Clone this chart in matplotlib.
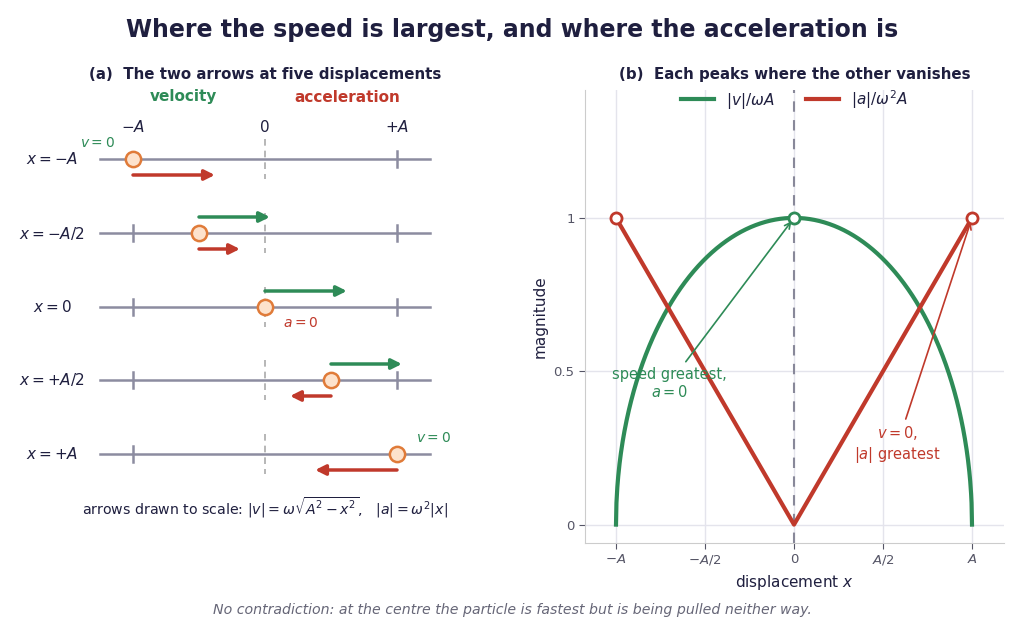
import numpy as np
import matplotlib
matplotlib.use("Agg")
import matplotlib.pyplot as plt

GREEN = "#2e8b57"; RED = "#c0392b"; NAVY = "#1f1f3f"; GREY = "#8c8ca0"
BALL_FACE = "#fde2cc"; BALL_EDGE = "#e07b39"

positions = [-1.0, -0.5, 0.0, 0.5, 1.0]
row_labels = [r"$x = -A$", r"$x = -A/2$", r"$x = 0$", r"$x = +A/2$", r"$x = +A$"]
axis_ticks = [-1.0, 0.0, 1.0]
axis_tick_labels = [r"$-A$", "0", r"$+A$"]
xticks_b = [-1.0, -0.5, 0.0, 0.5, 1.0]
xtick_labels_b = [r"$-A$", r"$-A/2$", "0", r"$A/2$", r"$A$"]
yticks_b = [0, 0.5, 1]
ytick_labels_b = ["0", "0.5", "1"]

fig = plt.figure(figsize=(10.24, 6.38), dpi=100)
fig.text(0.5, 1 - 30/638, "Where the speed is largest, and where the acceleration is",
         ha="center", va="center", fontsize=17, fontweight="bold", color=NAVY)
fig.text(0.5, 1 - 610/638, "No contradiction: at the centre the particle is fastest but is being pulled neither way.",
         ha="center", va="center", fontsize=10.2, style="italic", color="#666677")

# ---- panel (a)
axa = fig.add_axes([0, 1 - 540/638, 460/1024, 480/638])
axa.set_xlim(-265/132, 195/132)
axa.set_ylim(540, 60)
axa.axis("off")
axa.text(0.0, 75, "(a)  The two arrows at five displacements",
         ha="center", va="center", fontsize=10.8, fontweight="bold", color=NAVY)
axa.text((183-265)/132, 97, "velocity", ha="center", va="center", fontsize=11, fontweight="bold", color=GREEN)
axa.text((347-265)/132, 97, "acceleration", ha="center", va="center", fontsize=11, fontweight="bold", color=RED)
for t, l in zip(axis_ticks, axis_tick_labels):
    axa.text(t, 127, l, ha="center", va="center", fontsize=11, color=NAVY)

scale = 0.62
row_y = [159, 233, 307, 380, 454]
for x, lab, y in zip(positions, row_labels, row_y):
    axa.plot([(100-265)/132, (430-265)/132], [y, y], color=GREY, lw=1.8, zorder=1)
    axa.plot([0, 0], [y-20, y+20], color="#aaaaaa", lw=1.2, ls=(0, (4, 3)), zorder=0)
    for t in (-1, 1):
        if abs(t - x) > 1e-9:
            axa.plot([t, t], [y-8, y+8], color=GREY, lw=1.8, zorder=1)
    axa.text((52-265)/132, y, lab, ha="center", va="center", fontsize=11, color=NAVY)
    v = np.sqrt(1 - x**2)
    a = -x
    if v > 1e-9:
        axa.annotate("", xy=(x + scale*v, y-16), xytext=(x, y-16),
                     arrowprops=dict(arrowstyle="-|>,head_length=0.6,head_width=0.3", color=GREEN, lw=2.5, shrinkA=0, shrinkB=0))
    if abs(a) > 1e-9:
        axa.annotate("", xy=(x + scale*a, y+16), xytext=(x, y+16),
                     arrowprops=dict(arrowstyle="-|>,head_length=0.6,head_width=0.3", color=RED, lw=2.5, shrinkA=0, shrinkB=0))
    axa.plot([x], [y], "o", ms=11, mfc=BALL_FACE, mec=BALL_EDGE, mew=1.8, zorder=5)

axa.text(-1.27, 143, r"$v = 0$", ha="center", va="center", fontsize=10, color=GREEN)
axa.text(1.28, 438, r"$v = 0$", ha="center", va="center", fontsize=10, color=GREEN)
axa.text(0.27, 323, r"$a = 0$", ha="center", va="center", fontsize=10, color=RED)
axa.text(0.0, 508, r"arrows drawn to scale: $|v| = \omega\sqrt{A^2 - x^2}$,   $|a| = \omega^2|x|$",
         ha="center", va="center", fontsize=10.2, color=NAVY)

# ---- panel (b)
axb = fig.add_axes([585/1024, 1 - 543/638, (1004-585)/1024, (543-90)/638])
xs = np.linspace(-1, 1, 801)
vel = np.sqrt(1 - xs**2)
acc = np.abs(xs)
axb.plot(xs, vel, color=GREEN, lw=3, label=r"$|v|/\omega A$")
axb.plot(xs, acc, color=RED, lw=3, label=r"$|a|/\omega^2 A$")
axb.axvline(0, color="#888899", lw=1.5, ls=(0, (5, 4)), zorder=1)
axb.plot([0], [1], "o", ms=8, mfc="white", mec=GREEN, mew=2, zorder=5)
axb.plot([-1, 1], [1, 1], "o", ls="none", ms=8, mfc="white", mec=RED, mew=2, zorder=5)
axb.set_xlim((585-794)/178, (1004-794)/178)
axb.set_ylim(-0.06, 1.417)
axb.set_xticks(xticks_b, xtick_labels_b)
axb.set_yticks(yticks_b, ytick_labels_b)
axb.grid(True, color="#e4e4ec", lw=1)
axb.set_axisbelow(True)
for s in ("top", "right"):
    axb.spines[s].set_visible(False)
for s in ("left", "bottom"):
    axb.spines[s].set_color("#cccccc")
axb.tick_params(colors="#555566", labelsize=9.5, length=4)
axb.set_xlabel(r"displacement $x$", fontsize=11, color=NAVY)
axb.set_ylabel("magnitude", fontsize=11, color=NAVY)
axb.set_title("(b)  Each peaks where the other vanishes", fontsize=10.8, fontweight="bold", color=NAVY, pad=8)
leg = axb.legend(loc="upper center", ncol=2, frameon=False, fontsize=11, handlelength=2.2,
                 bbox_to_anchor=(0.5, 1.035))
for t in leg.get_texts():
    t.set_color(NAVY)
axb.annotate("speed greatest,\n$a = 0$", xy=(0, 1), xytext=(-0.7, 0.46), ha="center", va="center",
             fontsize=10.5, color=GREEN, arrowprops=dict(arrowstyle="->", color=GREEN, lw=1.2, shrinkA=2, shrinkB=3))
axb.annotate("$v = 0$,\n$|a|$ greatest", xy=(1, 1), xytext=(0.58, 0.26), ha="center", va="center",
             fontsize=10.5, color=RED, arrowprops=dict(arrowstyle="->", color=RED, lw=1.2, shrinkA=2, shrinkB=3))

fig.savefig("out.png", dpi=100)
